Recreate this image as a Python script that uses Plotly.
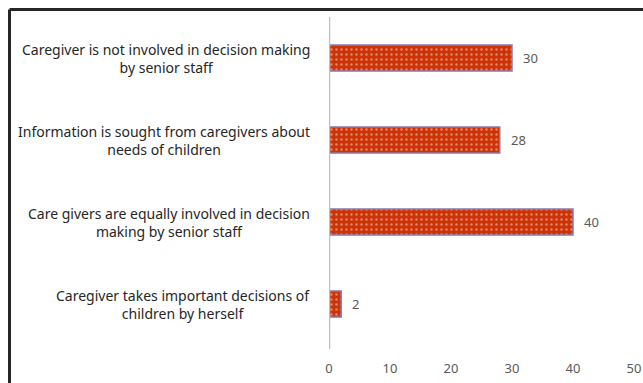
import plotly.graph_objects as go

# Responses about caregiver involvement in decision making (top to bottom)
categories = [
    "Caregiver is not involved in decision making<br>by senior staff",
    "Information is sought from caregivers about<br>needs of children",
    "Care givers are equally involved in decision<br>making by senior staff",
    "Caregiver takes important decisions of<br>children by herself",
]
values = [30, 28, 40, 2]
x_ticks = [0, 10, 20, 30, 40, 50]

W, H = 643, 383
L, R, T, B = 329, 9, 17, 38
plot_w = W - L - R
plot_h = H - T - B


def px_x(p):
    return (p - L) / plot_w


def px_y(p):
    return (H - B - p) / plot_h


fig = go.Figure()
fig.add_trace(go.Bar(
    y=categories,
    x=values,
    orientation="h",
    width=0.32,
    marker=dict(
        color="#CC3306",
        line=dict(color="#8A7AAE", width=1.5),
        pattern=dict(shape=".", fgcolor="#F6DCD4", size=5, solidity=0.18),
    ),
    hoverinfo="skip",
))

# Value labels to the right of each bar
for c, v in zip(categories, values):
    fig.add_annotation(
        x=v, xref="x", y=c, yref="y", text=str(v), showarrow=False,
        xanchor="left", xshift=9,
        font=dict(family="Noto Sans", size=13, color="#595959"),
    )

# Category labels, each block centred on its own lines
for c in categories:
    fig.add_annotation(
        x=0, xref="x domain", y=c, yref="y",
        text=c, showarrow=False, xanchor="right", align="center",
        xshift=-17,
        font=dict(family="Noto Sans", size=14, color="#262626"),
    )

shapes = [
    # value axis baseline
    dict(type="line", xref="x", yref="paper", x0=0, x1=0,
         y0=px_y(349), y1=1, line=dict(color="#BFBFBF", width=2.5)),
    # outer frame (top and left edges)
    dict(type="line", xref="paper", yref="paper",
         x0=px_x(9.5), x1=px_x(700), y0=px_y(9.5), y1=px_y(9.5),
         line=dict(color="#262626", width=3)),
    dict(type="line", xref="paper", yref="paper",
         x0=px_x(9.5), x1=px_x(9.5), y0=px_y(9.5), y1=px_y(420),
         line=dict(color="#262626", width=3)),
]

fig.update_layout(
    width=W, height=H,
    margin=dict(l=L, r=R, t=T, b=B),
    paper_bgcolor="white", plot_bgcolor="white",
    showlegend=False,
    shapes=shapes,
    xaxis=dict(
        range=[0, 50], tickvals=x_ticks, showgrid=False, zeroline=False,
        showline=False, ticks="", ticklabelstandoff=14,
        automargin=False, ticklabeloverflow="allow",
        tickfont=dict(family="Noto Sans", size=13, color="#595959"),
    ),
    yaxis=dict(
        autorange="reversed", showticklabels=False, showgrid=False,
        zeroline=False, showline=False, ticks="", automargin=False,
    ),
)

fig.write_html("out.html")
